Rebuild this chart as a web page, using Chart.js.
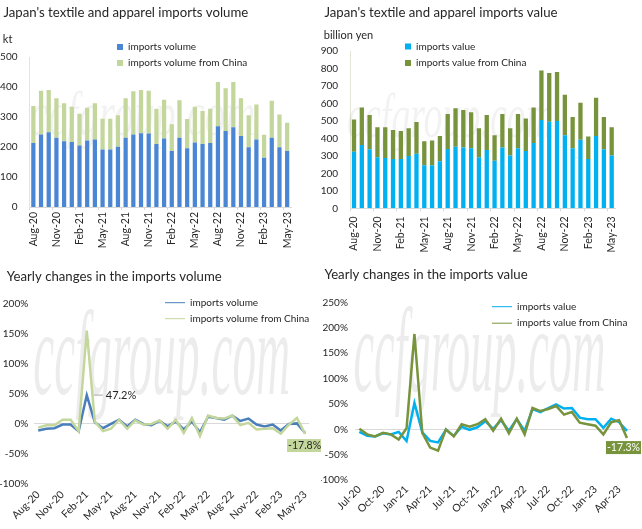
<!DOCTYPE html>
<html>
<head>
<meta charset="utf-8">
<script src="https://cdn.jsdelivr.net/npm/chart.js@4.4.0/dist/chart.umd.min.js"></script>
<style>
  body { margin: 0; background: #fff; }
  #wrap { position: relative; width: 642px; height: 529px; }
  .box { position: absolute; }
</style>
</head>
<body>
<div id="wrap">
  <div class="box" style="left:0;top:0;width:321px;height:262px"><canvas id="volChart"></canvas></div>
  <div class="box" style="left:321px;top:0;width:321px;height:262px"><canvas id="valChart"></canvas></div>
  <div class="box" style="left:0;top:262px;width:321px;height:267px"><canvas id="volYoyChart"></canvas></div>
  <div class="box" style="left:321px;top:262px;width:321px;height:267px"><canvas id="valYoyChart"></canvas></div>
</div>
<script>
// months Aug-20 .. May-23 (bar charts + volume yoy)
const months = ['Aug-20','Sep-20','Oct-20','Nov-20','Dec-20','Jan-21','Feb-21','Mar-21','Apr-21','May-21','Jun-21','Jul-21',
  'Aug-21','Sep-21','Oct-21','Nov-21','Dec-21','Jan-22','Feb-22','Mar-22','Apr-22','May-22','Jun-22','Jul-22',
  'Aug-22','Sep-22','Oct-22','Nov-22','Dec-22','Jan-23','Feb-23','Mar-23','Apr-23','May-23'];
// months Jul-20 .. May-23 (value yoy)
const valMonths = ['Jul-20','Aug-20','Sep-20','Oct-20','Nov-20','Dec-20','Jan-21','Feb-21','Mar-21','Apr-21','May-21','Jun-21',
  'Jul-21','Aug-21','Sep-21','Oct-21','Nov-21','Dec-21','Jan-22','Feb-22','Mar-22','Apr-22','May-22','Jun-22',
  'Jul-22','Aug-22','Sep-22','Oct-22','Nov-22','Dec-22','Jan-23','Feb-23','Mar-23','Apr-23','May-23'];

// kt
const importsVolume = [213,242,249,231,219,217,205,222,225,192,192,201,231,242,246,245,210,228,187,231,196,215,210,213,269,253,266,237,199,225,164,231,199,187];
const volumeFromChina = [124,146,141,132,127,117,106,109,121,102,102,105,132,144,144,143,118,130,89,125,97,119,110,115,148,143,151,126,107,117,77,123,109,94];
// billion yen
const importsValue = [324,363,338,292,288,282,282,300,313,246,246,269,340,353,349,344,292,334,273,349,302,344,328,374,506,496,500,418,344,393,282,414,338,303];
const valueFromChina = [185,215,196,172,176,166,161,158,181,138,143,145,200,221,214,206,166,200,145,191,156,196,187,204,284,279,281,233,179,212,130,220,185,161];
// yoy %, volume (Aug-20 .. May-23)
const volumeYoy = [-12,-9,-8,-2,-2,-13,47.2,2,-8,-1,6,-5,6,-1,-3,4,-5,3,-10,3,-15,11,9,6,13,4,8,-2,-5,-2,-12,-1,0,-16];
const volumeChinaYoy = [-7,-3,-3,6,6,-13,155,3,-13,-9,6,-9,5,-2,-1,5,-9,6,-16,9,-21,13,9,8,13,-3,1,-10,-9,-8,-17,-2,9,-17.8];
// yoy %, value (Jul-20 .. May-23)
const valueYoy = [-5,-13,-14,-8,-10,-5,-23,52,-6,-23,-26,-1,-13,5,-1,4,16,1,18,-3,20,-3,40,34,42,49,41,42,23,20,20,3,21,14,-3];
const valueChinaYoy = [1,-10,-14,-7,-10,-20,2,188,-7,-36,-42,0,-14,10,5,10,20,-3,21,-8,21,-10,42,36,40,46,29,34,13,10,7,-10,14,18,-17.3];

Chart.defaults.font.family = 'Lato';
Chart.defaults.color = '#262626';
Chart.defaults.animation = false;

// move the legend to a fixed spot inside the plot
const legendPos = {
  id: 'legendPos',
  afterLayout(chart, args, opts) {
    const lg = chart.legend;
    if (!lg || opts.x == null) return;
    const pad = lg.options.labels.padding;
    const fs = lg.options.labels.font.size;
    lg.left = opts.x - pad;
    lg.top = opts.y - fs / 2 - pad;
    lg.right = lg.left + 300;
    lg.bottom = lg.top + 200;
  }
};

const watermark = {
  id: 'watermark',
  beforeDatasetsDraw(chart, args, opts) {
    if (!opts.w) return;
    const a = chart.chartArea, ctx = chart.ctx;
    ctx.save();
    ctx.font = 'italic 80px "Liberation Serif"';
    const tw = ctx.measureText('ccfgroup.com').width;
    ctx.translate(a.left + opts.x, a.top + opts.y);
    ctx.scale(opts.w / tw, opts.sy);
    ctx.fillStyle = opts.color;
    ctx.fillText('ccfgroup.com', 0, 0);
    ctx.restore();
  }
};

const notes = {
  id: 'notes',
  afterDatasetsDraw(chart, args, opts) {
    const ctx = chart.ctx;
    (opts.items || []).forEach(n => {
      const pt = chart.getDatasetMeta(n.dataset).data[n.index];
      ctx.save();
      ctx.textBaseline = 'middle';
      if (n.leader) {
        ctx.font = '11px Lato';
        ctx.strokeStyle = '#a6a6a6';
        ctx.lineWidth = 1;
        ctx.beginPath();
        ctx.moveTo(pt.x + 7, pt.y);
        ctx.lineTo(pt.x + 16, pt.y);
        ctx.stroke();
        ctx.fillStyle = '#262626';
        ctx.fillText(n.text, pt.x + 19, pt.y);
      } else {
        ctx.font = '10.5px Lato';
        const w = ctx.measureText(n.text).width;
        const bx = pt.x + n.dx, by = pt.y + n.dy;
        ctx.fillStyle = n.bg;
        ctx.fillRect(bx, by, w + 2, 13);
        ctx.fillStyle = n.color;
        ctx.fillText(n.text, bx + 1, by + 7);
      }
      ctx.restore();
    });
  }
};

Chart.register(legendPos, watermark, notes);

function everyThird(v, i) {
  return i % 3 === 0 ? this.getLabelForValue(v) : '';
}

function axisX(height, rotation, pad, tickMarks) {
  return {
    stacked: true,
    offset: true,
    grid: {
      display: tickMarks,
      drawTicks: tickMarks,
      drawOnChartArea: false,
      tickLength: 3,
      color: c => (c.index % 3 === 0 ? '#d9d9d9' : 'rgba(0,0,0,0)')
    },
    border: { display: tickMarks, color: '#d9d9d9' },
    ticks: { autoSkip: false, minRotation: rotation, maxRotation: rotation, padding: pad,
      font: { size: 10.5 }, callback: everyThird },
    afterFit: s => { s.height = height; }
  };
}

function barY(max, step, width) {
  return {
    stacked: true, min: 0, max: max,
    ticks: { stepSize: step, padding: 12, font: { size: 10 } },
    grid: { display: false, drawTicks: false },
    border: { display: true, color: '#e4e4d8' },
    afterFit: s => { s.width = width; }
  };
}

function yoyY(min, max, width, pad) {
  return {
    min: min, max: max,
    ticks: { stepSize: 50, padding: pad, font: { size: 10 }, callback: v => v + '%' },
    grid: { drawTicks: false, color: c => (c.tick && c.tick.value === 0 ? '#d9d9d9' : 'rgba(0,0,0,0)') },
    border: { display: false },
    afterFit: s => { s.width = width; }
  };
}

// top-left: imports volume
new Chart(document.getElementById('volChart'), {
  type: 'bar',
  data: {
    labels: months,
    datasets: [
      { label: 'imports volume', data: importsVolume, backgroundColor: '#4a86d4' },
      { label: 'imports volume from China', data: volumeFromChina, backgroundColor: '#c3d69b' }
    ]
  },
  options: {
    responsive: true,
    maintainAspectRatio: false,
    layout: { padding: { left: 0, right: 30, top: 0, bottom: 0 } },
    datasets: { bar: { barPercentage: 0.55, categoryPercentage: 1 } },
    scales: {
      x: axisX(55, 90, 2, true),
      y: barY(500, 50, 29.5)
    },
    plugins: {
      title: { display: true, text: " Japan's textile and apparel imports volume", align: 'start',
        font: { size: 13.2, weight: 'normal' }, padding: { top: 5, bottom: 12 } },
      subtitle: { display: true, text: ' kt', align: 'start', font: { size: 11 }, padding: { top: 0, bottom: 11 } },
      legend: { position: 'chartArea', align: 'start',
        labels: { boxWidth: 6, boxHeight: 6, padding: 6, font: { size: 10 } } },
      legendPos: { x: 117, y: 47 },
      watermark: { x: 0, y: 78, w: 226, sy: 0.8, color: 'rgba(0,0,0,0.05)' },
      tooltip: { enabled: false }
    }
  }
});

// top-right: imports value
new Chart(document.getElementById('valChart'), {
  type: 'bar',
  data: {
    labels: months,
    datasets: [
      { label: 'imports value', data: importsValue, backgroundColor: '#00b0f0' },
      { label: 'imports value from China', data: valueFromChina, backgroundColor: '#77933c' }
    ]
  },
  options: {
    responsive: true,
    maintainAspectRatio: false,
    layout: { padding: { left: 0, right: 26.4, top: 0, bottom: 0 } },
    datasets: { bar: { barPercentage: 0.55, categoryPercentage: 1 } },
    scales: {
      x: axisX(53.7, 90, 5, true),
      y: barY(900, 100, 29.1)
    },
    plugins: {
      title: { display: true, text: " Japan's textile and apparel imports value", align: 'start',
        font: { size: 13.2, weight: 'normal' }, padding: { top: 4.5, bottom: 8.3 } },
      subtitle: { display: true, text: ' billion yen', align: 'start', font: { size: 11 }, padding: { top: 0, bottom: 9.4 } },
      legend: { position: 'chartArea', align: 'start',
        labels: { boxWidth: 6, boxHeight: 6, padding: 6.5, font: { size: 10 } } },
      legendPos: { x: 84, y: 46.5 },
      watermark: { x: -3, y: 86, w: 206, sy: 0.8, color: 'rgba(0,0,0,0.05)' },
      tooltip: { enabled: false }
    }
  }
});

// bottom-left: yearly changes, volume
new Chart(document.getElementById('volYoyChart'), {
  type: 'line',
  data: {
    labels: months,
    datasets: [
      { label: 'imports volume', data: volumeYoy, borderColor: '#4a7ebb', backgroundColor: '#4a7ebb', order: 1 },
      { label: 'imports volume from China', data: volumeChinaYoy, borderColor: '#c3d69b', backgroundColor: '#c3d69b', order: 0 }
    ]
  },
  options: {
    responsive: true,
    maintainAspectRatio: false,
    layout: { padding: { left: 0, right: 11.9, top: 0, bottom: 0 } },
    elements: { line: { borderWidth: 2.5, tension: 0 }, point: { radius: 0 } },
    scales: {
      x: axisX(45.7, 45, 5, false),
      y: yoyY(-100, 200, 34.2, 6)
    },
    plugins: {
      title: { display: true, text: '  Yearly changes in the imports volume', align: 'start',
        font: { size: 13.2, weight: 'normal' }, padding: { top: 6.9, bottom: 18.8 } },
      legend: { position: 'chartArea', align: 'start',
        labels: { usePointStyle: true, pointStyle: 'line', pointStyleWidth: 20, padding: 6, font: { size: 10 },
          sort: (a, b) => a.datasetIndex - b.datasetIndex } },
      legendPos: { x: 165, y: 40.7 },
      watermark: { x: -1, y: 90, w: 257, sy: 1.5, color: 'rgba(0,0,0,0.075)' },
      notes: { items: [
        { dataset: 0, index: 6, text: '47.2%', leader: true },
        { dataset: 1, index: 33, text: '-17.8%', dx: -18, dy: 5, bg: '#c3d69b', color: '#262626' }
      ] },
      tooltip: { enabled: false }
    }
  }
});

// bottom-right: yearly changes, value
new Chart(document.getElementById('valYoyChart'), {
  type: 'line',
  data: {
    labels: valMonths,
    datasets: [
      { label: 'imports value', data: valueYoy, borderColor: '#00b0f0', backgroundColor: '#00b0f0', order: 1 },
      { label: 'imports value from China', data: valueChinaYoy, borderColor: '#77933c', backgroundColor: '#77933c', order: 0 }
    ]
  },
  options: {
    responsive: true,
    maintainAspectRatio: false,
    layout: { padding: { left: 0, right: 11.1, top: 0, bottom: 0 } },
    elements: { line: { borderWidth: 2.5, tension: 0 }, point: { radius: 0 } },
    scales: {
      x: axisX(49, 45, 3, false),
      y: yoyY(-100, 250, 34.4, 7.5)
    },
    plugins: {
      title: { display: true, text: ' Yearly changes in the imports value', align: 'start',
        font: { size: 13.2, weight: 'normal' }, padding: { top: 5.2, bottom: 19.5 } },
      legend: { position: 'chartArea', align: 'start',
        labels: { usePointStyle: true, pointStyle: 'line', pointStyleWidth: 20, padding: 6.5, font: { size: 10 },
          sort: (a, b) => a.datasetIndex - b.datasetIndex } },
      legendPos: { x: 171, y: 44.7 },
      watermark: { x: -2, y: 88, w: 252, sy: 1.5, color: 'rgba(0,0,0,0.075)' },
      notes: { items: [
        { dataset: 1, index: 34, text: '-17.3%', dx: -21, dy: 3, bg: '#77933c', color: '#ffffff' }
      ] },
      tooltip: { enabled: false }
    }
  }
});
</script>
</body>
</html>
